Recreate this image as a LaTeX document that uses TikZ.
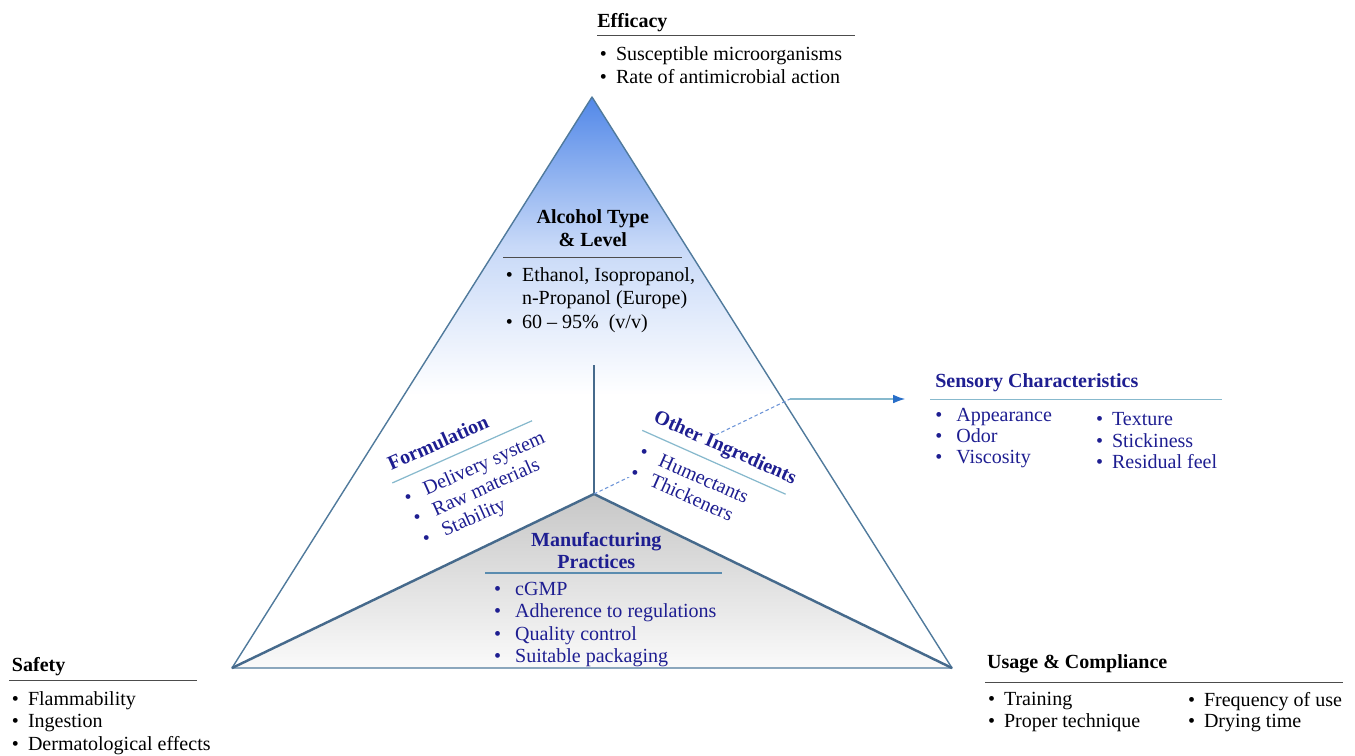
\documentclass[tikz,border=0pt]{standalone}
\usepackage{fontspec}
\setmainfont{Liberation Serif}
\usetikzlibrary{arrows.meta}

\definecolor{navy}{RGB}{30,30,145}
\definecolor{edgeblue}{RGB}{80,122,156}
\definecolor{innerblue}{RGB}{70,106,140}
\definecolor{paleline}{RGB}{135,185,205}
\definecolor{midline}{RGB}{90,140,175}
\definecolor{apexblue}{RGB}{82,136,232}
\definecolor{tipblue}{RGB}{40,110,200}

\newcommand{\itm}[1][1.5pt]{\hspace*{#1}\textbullet\hspace{.45em}}
\newcommand{\hrl}[2]{{\color{#1}\rule{#2}{.7pt}}}

\begin{document}
\begin{tikzpicture}[x=.02cm,y=.02cm,
    blk/.style={anchor=north west,inner sep=0pt,align=left,
      font=\fontsize{11.4}{12.8}\selectfont},
    edge/.style={draw=edgeblue,line width=.8pt,line join=round},
    inner/.style={draw=innerblue,line width=1.4pt,line join=round}]

  \useasboundingbox (0,0) rectangle (1355,-755);

  \coordinate (apex) at (592,-97);
  \coordinate (bl) at (232,-668);
  \coordinate (br) at (952,-668);
  \coordinate (hub) at (594,-494);
  \coordinate (stem) at (594,-365);
  \coordinate (exit) at (790,-399);

  \begin{scope}
    \clip (apex) -- (bl) -- (br) -- cycle;
    \shade[top color=apexblue,bottom color=white,middle color=apexblue!32!white]
      (220,-97) rectangle (970,-395);
    \shade[top color=black!22,bottom color=black!2] (bl) -- (hub) -- (br) -- cycle;
  \end{scope}

  \draw[edge] (apex) -- (bl) -- (br) -- cycle;
  \draw[inner] (bl) -- (hub) -- (br);
  \draw[inner,line width=1.2pt] (stem) -- (hub);
  \draw[paleline!80!blue,dash pattern=on 2pt off 1.5pt,line width=.6pt] (hub) -- (exit);

  \begin{scope}[every node/.style=blk]
    \node (eff) at (597,-13.5) {\textbf{Efficacy}\\[-8.25pt]
      \hrl{black!70}{5.16cm}\\[1.4pt]
      \itm Susceptible microorganisms\\
      \itm Rate of antimicrobial action};

    \node (alc) at (503,-209.6) {\makebox[3.58cm]{\textbf{Alcohol Type}}\\
      \makebox[3.58cm]{\textbf{\& Level}}\\[-6pt]
      \hrl{black!70}{3.58cm}\\[.3pt]
      \itm Ethanol, Isopropanol,\\[.4pt]
      \phantom{\itm}n-Propanol (Europe)\\[.6pt]
      \itm 60 -- 95\%~~(v/v)};

    \node[text=navy] (sens) at (930,-373.6) {\hspace*{2.8pt}\textbf{Sensory Characteristics}\\[-6pt]
      \hrl{paleline}{5.84cm}\\[-.3pt]
      \itm[2.8pt] Appearance\\[-.8pt]
      \itm[2.8pt] Odor\\[-.8pt]
      \itm[2.8pt] Viscosity};
    \node[text=navy] (sens2) at (1093,-412.3) {\itm Texture\\[-.6pt]
      \itm Stickiness\\[-.6pt]
      \itm Residual feel};

    \node (saf) at (9,-656.6) {\hspace*{1.5pt}\textbf{Safety}\\[-7.1pt]
      \hrl{black!70}{3.76cm}\\[.9pt]
      \itm Flammability\\
      \itm Ingestion\\
      \itm Dermatological effects};

    \node (use) at (985,-654.6) {\hspace*{1pt}\textbf{Usage \& Compliance}\\[-4.8pt]
      \hrl{black!70}{7.16cm}\\[.3pt]
      \itm Training\\[-.8pt]
      \itm Proper technique};
    \node (use2) at (1185,-691.6) {\itm Frequency of use\\[-.8pt]
      \itm Drying time};

    \node[text=navy] (mfg) at (485,-531.6) {\makebox[4.44cm]{\textbf{Manufacturing}}\\
      \makebox[4.44cm]{\textbf{Practices}}\\[-9.95pt]
      \hrl{midline}{4.74cm}\\[-.5pt]
      \itm[5pt] cGMP\\
      \itm[5pt] Adherence to regulations\\
      \itm[5pt] Quality control\\
      \itm[5pt] Suitable packaging};

    \node[text=navy,rotate=24] (form) at (381.6,-459.7) {\hspace*{2.3pt}\textbf{Formulation}\\[-6pt]
      \hrl{paleline}{3.06cm}\\[1.4pt]
      \itm[3pt] Delivery system\\
      \itm[3pt] Raw materials\\
      \itm[3pt] Stability};

    \node[text=navy,rotate=-24,fill=white] (oth) at (652.6,-406.2) {\hspace*{3.4pt}\textbf{Other Ingredients}\\[-5.6pt]
      \hrl{paleline}{3.14cm}\\[1.4pt]
      \itm[4pt] Humectants\\
      \itm[4pt] Thickeners};
  \end{scope}

  \draw[paleline,line width=1pt,shorten >=14pt,-{Latex[length=7pt,width=5pt,color=tipblue]}]
    (exit) -- (exit -| sens.west);

\end{tikzpicture}
\end{document}
